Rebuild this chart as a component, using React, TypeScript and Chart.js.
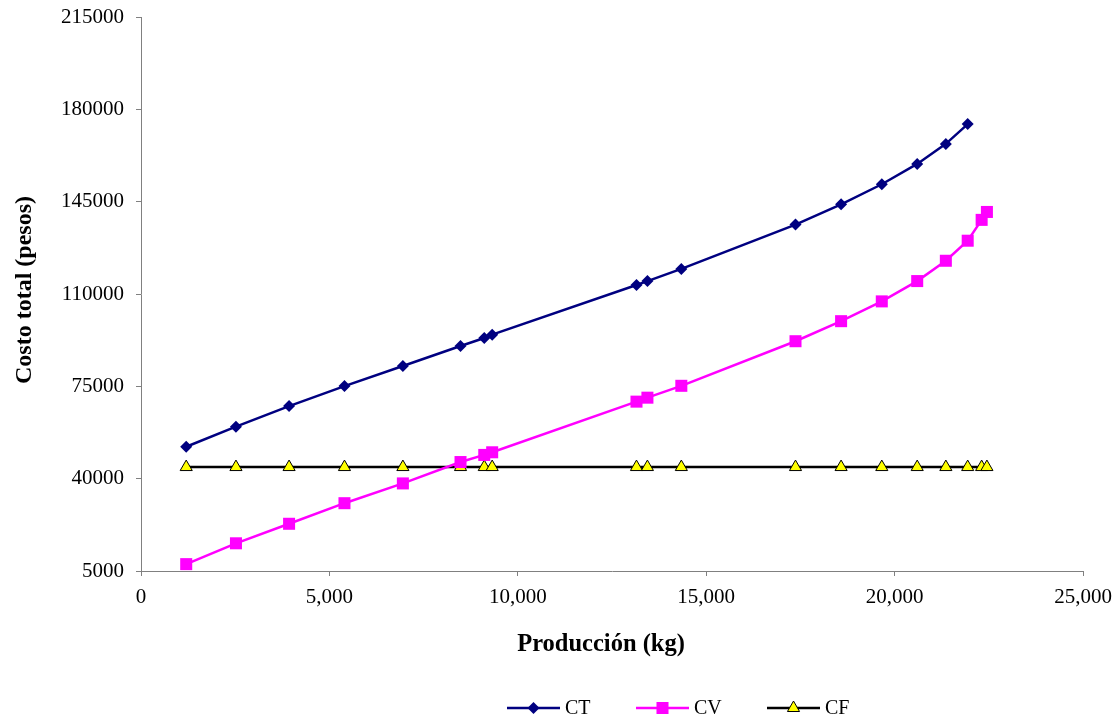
import React, { useEffect, useRef } from "react";
import { Chart, registerables } from "chart.js";

Chart.register(...registerables);

const produccion = [1200, 2520, 3930, 5400, 6950, 8480, 9110, 9320, 13150, 13440, 14340, 17370, 18580, 19660, 20600, 21360, 21940, 22310, 22450];
const costoTotal = [52100, 59700, 67500, 75100, 82700, 90300, 93300, 94600, 113400, 114900, 119500, 136300, 144000, 151600, 159300, 166900, 174400];
const costoVariable = [7600, 15500, 22900, 30700, 38200, 46300, 49000, 50000, 69200, 70700, 75200, 92100, 99700, 107200, 114900, 122600, 130200, 138100, 141100];
const costoFijo = [44400, 44400, 44400, 44400, 44400, 44400, 44400, 44400, 44400, 44400, 44400, 44400, 44400, 44400, 44400, 44400, 44400, 44400, 44400];
const seriesNames = ["CT", "CV", "CF"];
const xTitle = "Producción (kg)";
const yTitle = "Costo total (pesos)";

const FONT = "'Liberation Serif', 'Times New Roman', serif";

const titlesPlugin = {
  id: "excelTitles",
  afterDraw(chart: any) {
    const ctx = chart.ctx;
    ctx.save();
    ctx.fillStyle = "#000";
    ctx.textAlign = "center";
    ctx.textBaseline = "middle";
    ctx.font = `bold 24.5px ${FONT}`;
    ctx.fillText(xTitle, 601, 645);
    ctx.translate(25, 290);
    ctx.rotate(-Math.PI / 2);
    ctx.font = `bold 24px ${FONT}`;
    ctx.fillText(yTitle, 0, 0);
    ctx.restore();
  },
};

const legendPlugin = {
  id: "excelLegend",
  afterDraw(chart: any) {
    const ctx = chart.ctx;
    const y = 708;
    const starts = [507, 636, 767];
    chart.data.datasets.forEach((ds: any, i: number) => {
      const x0 = starts[i];
      const len = 53;
      ctx.save();
      ctx.strokeStyle = ds.borderColor;
      ctx.lineWidth = ds.borderWidth;
      ctx.beginPath();
      ctx.moveTo(x0, y);
      ctx.lineTo(x0 + len, y);
      ctx.stroke();
      ctx.restore();
      const cx = x0 + len / 2;
      const r = ds.pointRadius;
      ctx.save();
      ctx.fillStyle = ds.pointBackgroundColor;
      ctx.strokeStyle = ds.pointBorderColor;
      ctx.lineWidth = ds.pointBorderWidth;
      ctx.beginPath();
      if (ds.pointStyle === "rectRot") {
        ctx.moveTo(cx, y - r);
        ctx.lineTo(cx + r, y);
        ctx.lineTo(cx, y + r);
        ctx.lineTo(cx - r, y);
      } else if (ds.pointStyle === "rect") {
        const s = r * Math.SQRT1_2;
        ctx.rect(cx - s, y - s, 2 * s, 2 * s);
      } else {
        ctx.moveTo(cx, y - r);
        ctx.lineTo(cx + r * 0.866, y + r * 0.5);
        ctx.lineTo(cx - r * 0.866, y + r * 0.5);
      }
      ctx.closePath();
      ctx.fill();
      if (ds.pointBorderWidth > 0) ctx.stroke();
      ctx.restore();
      ctx.save();
      ctx.fillStyle = "#000";
      ctx.font = `20px ${FONT}`;
      ctx.textBaseline = "middle";
      ctx.textAlign = "left";
      ctx.fillText(ds.label, x0 + len + 5, y + 1);
      ctx.restore();
    });
  },
};

function toPoints(xs: number[], ys: number[]) {
  return ys.map((v, i) => ({ x: xs[i], y: v }));
}

export default function App() {
  const ref = useRef<HTMLCanvasElement | null>(null);

  useEffect(() => {
    if (!ref.current) return;
    const chart = new Chart(ref.current, {
      type: "line",
      data: {
        datasets: [
          {
            label: seriesNames[0],
            data: toPoints(produccion, costoTotal),
            borderColor: "#000080",
            backgroundColor: "#000080",
            borderWidth: 2.5,
            pointStyle: "rectRot",
            pointRadius: 6,
            pointBackgroundColor: "#000080",
            pointBorderColor: "#000080",
            pointBorderWidth: 0,
            tension: 0,
          },
          {
            label: seriesNames[1],
            data: toPoints(produccion, costoVariable),
            borderColor: "#FF00FF",
            backgroundColor: "#FF00FF",
            borderWidth: 2.5,
            pointStyle: "rect",
            pointRadius: 8.5,
            pointBackgroundColor: "#FF00FF",
            pointBorderColor: "#FF00FF",
            pointBorderWidth: 0,
            tension: 0,
          },
          {
            label: seriesNames[2],
            data: toPoints(produccion, costoFijo),
            borderColor: "#000000",
            backgroundColor: "#FFFF00",
            borderWidth: 2.5,
            pointStyle: "triangle",
            pointRadius: 7,
            pointBackgroundColor: "#FFFF00",
            pointBorderColor: "#000000",
            pointBorderWidth: 1,
            tension: 0,
          },
        ],
      },
      options: {
        responsive: false,
        animation: false,
        layout: { padding: { top: 17, right: 35, bottom: 61, left: 0 } },
        plugins: {
          legend: { display: false },
          tooltip: { enabled: false },
        },
        scales: {
          x: {
            type: "linear",
            min: 0,
            max: 25000,
            afterFit(scale: any) {
              scale.height = 89;
              scale.paddingLeft = 0;
              scale.paddingRight = 0;
            },
            ticks: {
              stepSize: 5000,
              color: "#000",
              font: { family: FONT, size: 21 },
              padding: 9,
              maxRotation: 0,
              callback: (v: any) => Number(v).toLocaleString("en-US"),
            },
            grid: {
              display: true,
              drawOnChartArea: false,
              drawTicks: true,
              tickLength: 5,
              color: "#808080",
            },
            border: { display: true, color: "#808080", width: 1 },
            title: { display: false, text: xTitle },
          },
          y: {
            type: "linear",
            min: 5000,
            max: 215000,
            afterFit(scale: any) {
              scale.width = 141;
              scale.paddingTop = 0;
              scale.paddingBottom = 0;
            },
            ticks: {
              stepSize: 35000,
              color: "#000",
              font: { family: FONT, size: 21 },
              padding: 12,
              callback: (v: any) => String(v),
            },
            grid: {
              display: true,
              drawOnChartArea: false,
              drawTicks: true,
              tickLength: 5,
              color: "#808080",
            },
            border: { display: true, color: "#808080", width: 1 },
            title: { display: false, text: yTitle },
          },
        },
      },
      plugins: [titlesPlugin, legendPlugin],
    } as any);
    return () => chart.destroy();
  }, []);

  return (
    <div style={{ position: "fixed", left: 0, top: 0, width: 1118, height: 721, background: "#fff" }}>
      <canvas ref={ref} width={1118} height={721} />
    </div>
  );
}
